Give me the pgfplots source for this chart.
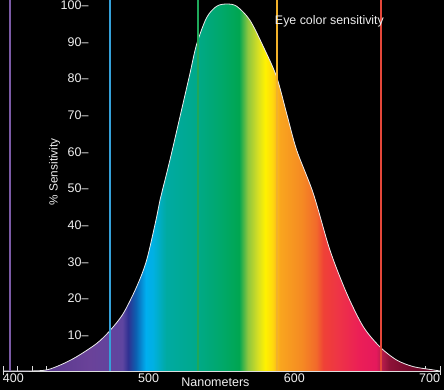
\documentclass[border=0pt]{standalone}
\usepackage{pgfplots}
\pgfplotsset{compat=1.18}
\usepackage{fontspec}
\setmainfont{Liberation Sans}

\definecolor{axisgrey}{HTML}{DDDDDD}
\definecolor{txt}{HTML}{EEEEEE}
\definecolor{cviolet}{HTML}{7B5BA6}
\definecolor{cblue}{HTML}{35A0D8}
\definecolor{cgreen}{HTML}{1FA85A}
\definecolor{cyellow}{HTML}{F2B22A}
\definecolor{cred}{HTML}{E5473A}

\definecolor{s400}{HTML}{4A2775}
\definecolor{s430}{HTML}{5A3A8E}
\definecolor{s460}{HTML}{6A4299}
\definecolor{s482}{HTML}{5E45A0}
\definecolor{s486}{HTML}{2E3192}
\definecolor{s491}{HTML}{0D5FB0}
\definecolor{s498}{HTML}{00AEEF}
\definecolor{s503}{HTML}{00B0E2}
\definecolor{s512}{HTML}{00AAA2}
\definecolor{s530}{HTML}{00A98E}
\definecolor{s550}{HTML}{00A86A}
\definecolor{s562}{HTML}{00A651}
\definecolor{s568}{HTML}{8DC63F}
\definecolor{s575}{HTML}{D7DF23}
\definecolor{s580}{HTML}{FFF200}
\definecolor{s585}{HTML}{FFD70E}
\definecolor{s590}{HTML}{F9A61E}
\definecolor{s605}{HTML}{F58A23}
\definecolor{s615}{HTML}{F26A2B}
\definecolor{s620}{HTML}{EF4136}
\definecolor{s630}{HTML}{EE3446}
\definecolor{s645}{HTML}{EB1E57}
\definecolor{s656}{HTML}{E5195C}
\definecolor{s660}{HTML}{B71C4B}
\definecolor{s665}{HTML}{8E1238}
\definecolor{s680}{HTML}{720A2B}
\definecolor{s700}{HTML}{5A0521}

% position p = 25 + (nm-400)/6  (bp)
\pgfdeclarehorizontalshading{spectrum}{100bp}{%
color(0bp)=(s400); color(25bp)=(s400);
color(30bp)=(s430); color(35bp)=(s460);
color(38.667bp)=(s482); color(39.333bp)=(s486);
color(40.167bp)=(s491); color(41.333bp)=(s498);
color(42.167bp)=(s503); color(43.667bp)=(s512);
color(46.667bp)=(s530); color(50bp)=(s550);
color(52bp)=(s562); color(53bp)=(s568);
color(54.167bp)=(s575); color(55bp)=(s580);
color(55.833bp)=(s585); color(56.667bp)=(s590);
color(59.167bp)=(s605); color(60.833bp)=(s615);
color(61.667bp)=(s620); color(63.333bp)=(s630);
color(65.833bp)=(s645); color(67.667bp)=(s656);
color(68.333bp)=(s660); color(69.167bp)=(s665);
color(71.667bp)=(s680); color(75bp)=(s700);
color(100bp)=(s700)}

\pgfplotstableread{
nm pct
400 0
418 0
430 0.3
440.3 1.8
450.6 3.9
464.3 7.5
473.4 11.0
482.6 15.7
491.8 23.0
498.6 30.2
505.5 42.0
507.8 46.6
514.6 57.5
521.5 69.3
528.3 81.0
532.9 89.0
539.8 96.3
546.7 99.4
553.5 100
560.4 99.4
569.5 95.6
578.7 88.4
587.8 80.2
594.7 70.2
601.6 60.2
613.0 48.4
624.4 33.0
635.9 21.2
647.3 12.1
658.7 6.6
670.2 3.0
681.6 1.2
695.3 0.3
700 0
}\curve

\newcommand{\tw}{\fontsize{12.5}{14}\selectfont}

\begin{document}
\begin{tikzpicture}[font=\tw]
\fill[black] (-3pt,-19pt) rectangle (441pt,371pt);
\begin{axis}[
  at={(0,0)}, anchor=south west,
  scale only axis, width=437pt, height=371pt,
  xmin=400, xmax=700, ymin=0, ymax=101.1,
  axis x line*=bottom, axis y line*=left,
  x axis line style={draw=axisgrey, line width=0.8pt},
  y axis line style={draw=none},
  xtick={400,500,600,700},
  xticklabels={\rlap{400},500,600,\llap{700}},
  minor xtick={410,420,...,690},
  tick align=inside,
  major tick length=5pt, minor tick length=5pt,
  xtick style={draw=axisgrey, line width=0.8pt},
  ytick style={draw=none},
  extra x ticks={400,700}, extra x tick labels={},
  extra x tick style={tick align=center, major tick length=9pt},
  ytick={10,20,...,100},
  yticklabels={10\textendash,20\textendash,30\textendash,40\textendash,50\textendash,60\textendash,70\textendash,80\textendash,90\textendash,100\textendash},
  tick label style={font=\tw, text=txt},
  yticklabel style={anchor=east, xshift=89pt, yshift=-1pt},
  xticklabel style={yshift=1pt},
  /pgf/number format/assume math mode=true,
  xlabel={Nanometers},
  xlabel style={at={(axis description cs:0.486,-0.0315)}, anchor=center, text=txt, font=\tw},
  ylabel={\% Sensitivity},
  ylabel style={at={(axis description cs:0.118,0.537)}, anchor=center, text=txt, font=\fontsize{11.8}{13}\selectfont},
  title={Eye color sensitivity},
  title style={at={(axis description cs:0.747,0.927)}, anchor=center, text=txt, font=\fontsize{12.4}{14}\selectfont},
  clip=false,
]
\addplot[draw=none, shade, shading=spectrum, smooth] table[x=nm,y=pct] {\curve} \closedcycle;
\addplot[draw=white!92!black, line width=0.8pt, smooth] table[x=nm,y=pct] {\curve};
\addplot[draw=cviolet, line width=1.6pt] coordinates {(404.8,0) (404.8,101.1)};
\addplot[draw=cblue, line width=1.6pt] coordinates {(473.4,0) (473.4,101.1)};
\addplot[draw=cgreen, line width=1.8pt, opacity=1] coordinates {(533.6,0) (533.6,101.1)};
\addplot[draw=cyellow, line width=1.6pt] coordinates {(588.1,0) (588.1,101.1)};
\addplot[draw=cred, line width=1.6pt] coordinates {(659.4,0) (659.4,101.1)};
\end{axis}
\pgfresetboundingbox
\path[use as bounding box] (-3pt,-19pt) rectangle (441pt,371pt);
\end{tikzpicture}
\end{document}
